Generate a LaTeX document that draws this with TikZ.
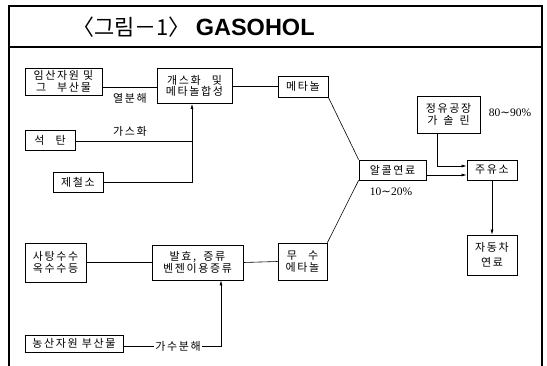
\documentclass[tikz,border=0pt]{standalone}
\usepackage{fontspec}
\setmainfont{Liberation Serif}
\newfontfamily\kr{Noto Sans CJK KR}[LetterSpace=15]
\newfontfamily\krt{Noto Sans CJK KR}
\newfontfamily\ttl{Liberation Sans}
\newfontfamily\dv{DejaVu Sans}
\newcommand{\tld}{{\dv ∼}}
\usetikzlibrary{arrows.meta}
\tikzset{
  box/.style={draw, line width=0.8pt, inner sep=0pt, align=center,
    font=\kr\fontsize{11}{13.5}\selectfont},
  lab/.style={inner sep=1pt, font=\kr\fontsize{11}{13}\selectfont},
  num/.style={inner sep=1pt, font=\rmfamily\fontsize{11.5}{13}\selectfont},
  conn/.style={line width=0.6pt},
  arr/.style={line width=0.6pt, -{Latex[length=5pt,width=3pt]}},
  frame/.style={line width=1.1pt}
}
\begin{document}
\begin{tikzpicture}[x=1pt,y=-1pt]
\useasboundingbox (0,0) rectangle (547,366);
% frame
\coordinate (tl) at (9,6);
\coordinate (tr) at (542,6);
\coordinate (bl) at (9,366);
\coordinate (br) at (542,366);
\coordinate (sl) at (9,47);
\coordinate (sr) at (542,47);
\draw[frame] (bl) -- (tl) -- (tr) -- (br);
\draw[frame] (sl) -- (sr);
\node[anchor=west, inner sep=0pt] (title) at (72,27)
  {\krt\fontsize{22}{24}\selectfont 〈그림－1〉\ \ttl\bfseries\fontsize{23.5}{24}\selectfont GASOHOL};
% boxes
\node[box, minimum width=77pt, minimum height=27pt] (b1) at (63.5,81.5) {임산자원 및\\[-2pt]그\quad 부산물};
\node[box, minimum width=75pt, minimum height=35pt] (b2) at (194.5,86) {개스화\quad 및\\[-2pt]메타놀합성};
\node[box, minimum width=50pt, minimum height=21pt] (b3) at (303,86.5) {메타놀};
\node[box, minimum width=50pt, minimum height=20pt] (coal) at (50,140) {석\quad 탄};
\node[box, minimum width=50pt, minimum height=20pt] (steel) at (78,182) {제철소};
\node[box, minimum width=63pt, minimum height=37pt] (ref) at (448.5,114.5) {정유공장\\[-2pt]가\, 솔\, 린};
\node[box, minimum width=67pt, minimum height=20pt] (alc) at (392.5,170) {알콜연료};
\node[box, minimum width=50pt, minimum height=20pt] (gas) at (492,170) {주유소};
\node[box, minimum width=50pt, minimum height=40pt] (car) at (492,255) {자동차\\[2pt]연료};
\node[box, minimum width=49pt, minimum height=37pt] (eth) at (302.5,261.5) {무\quad 수\\[-2pt]에타놀};
\node[box, minimum width=61pt, minimum height=39pt] (sug) at (55.5,262.5) {사탕수수\\[-2pt]옥수수등};
\node[box, minimum width=91pt, minimum height=35pt] (fer) at (197.5,262.5) {발효,\; 증류\\[-2pt]벤젠이용증류};
\node[box, minimum width=98pt, minimum height=17pt] (agr) at (74,343.5) {농산자원 부산물};
% labels
\node[lab] (l1) at (130,98) {열분해};
\node[lab] (l2) at (130,131) {가스화};
\node[num] (l3) at (510,113) {80\tld90\%};
\node[num] (l4) at (391,192) {10\tld20\%};
% connectors
\coordinate (j1) at (192,141);
\coordinate (j2) at (192,182);
\coordinate (j3) at (437,166);
\coordinate (j4) at (221,346);
\draw[conn] (b1.east |- 0,87) -- (b2.west |- 0,87);
\draw[conn] (b2.east |- b3.west) -- (b3.west);
\draw[conn] (coal.east |- j1) -- (j1);
\draw[arr] (steel.east |- j2) -- (j2) -- (b2.south -| j2);
\draw[conn] (b3.south east) -- (alc.north west);
\draw[conn] (alc.south west) -- (eth.north east);
\draw[arr] (ref.south -| j3) -- (j3) -- (gas.west |- j3);
\draw[arr] (alc.east |- 0,175) -- (gas.west |- 0,175);
\draw[arr] (gas.south) -- (car.north);
\draw[conn] (sug.east) -- (fer.west);
\draw[conn] (fer.east) -- (eth.west);
\draw[arr] (agr.east |- j4) -- (j4) -- (fer.south -| j4);
\node[lab, fill=white] (l5) at (178,346) {가수분해};
\end{tikzpicture}
\end{document}
